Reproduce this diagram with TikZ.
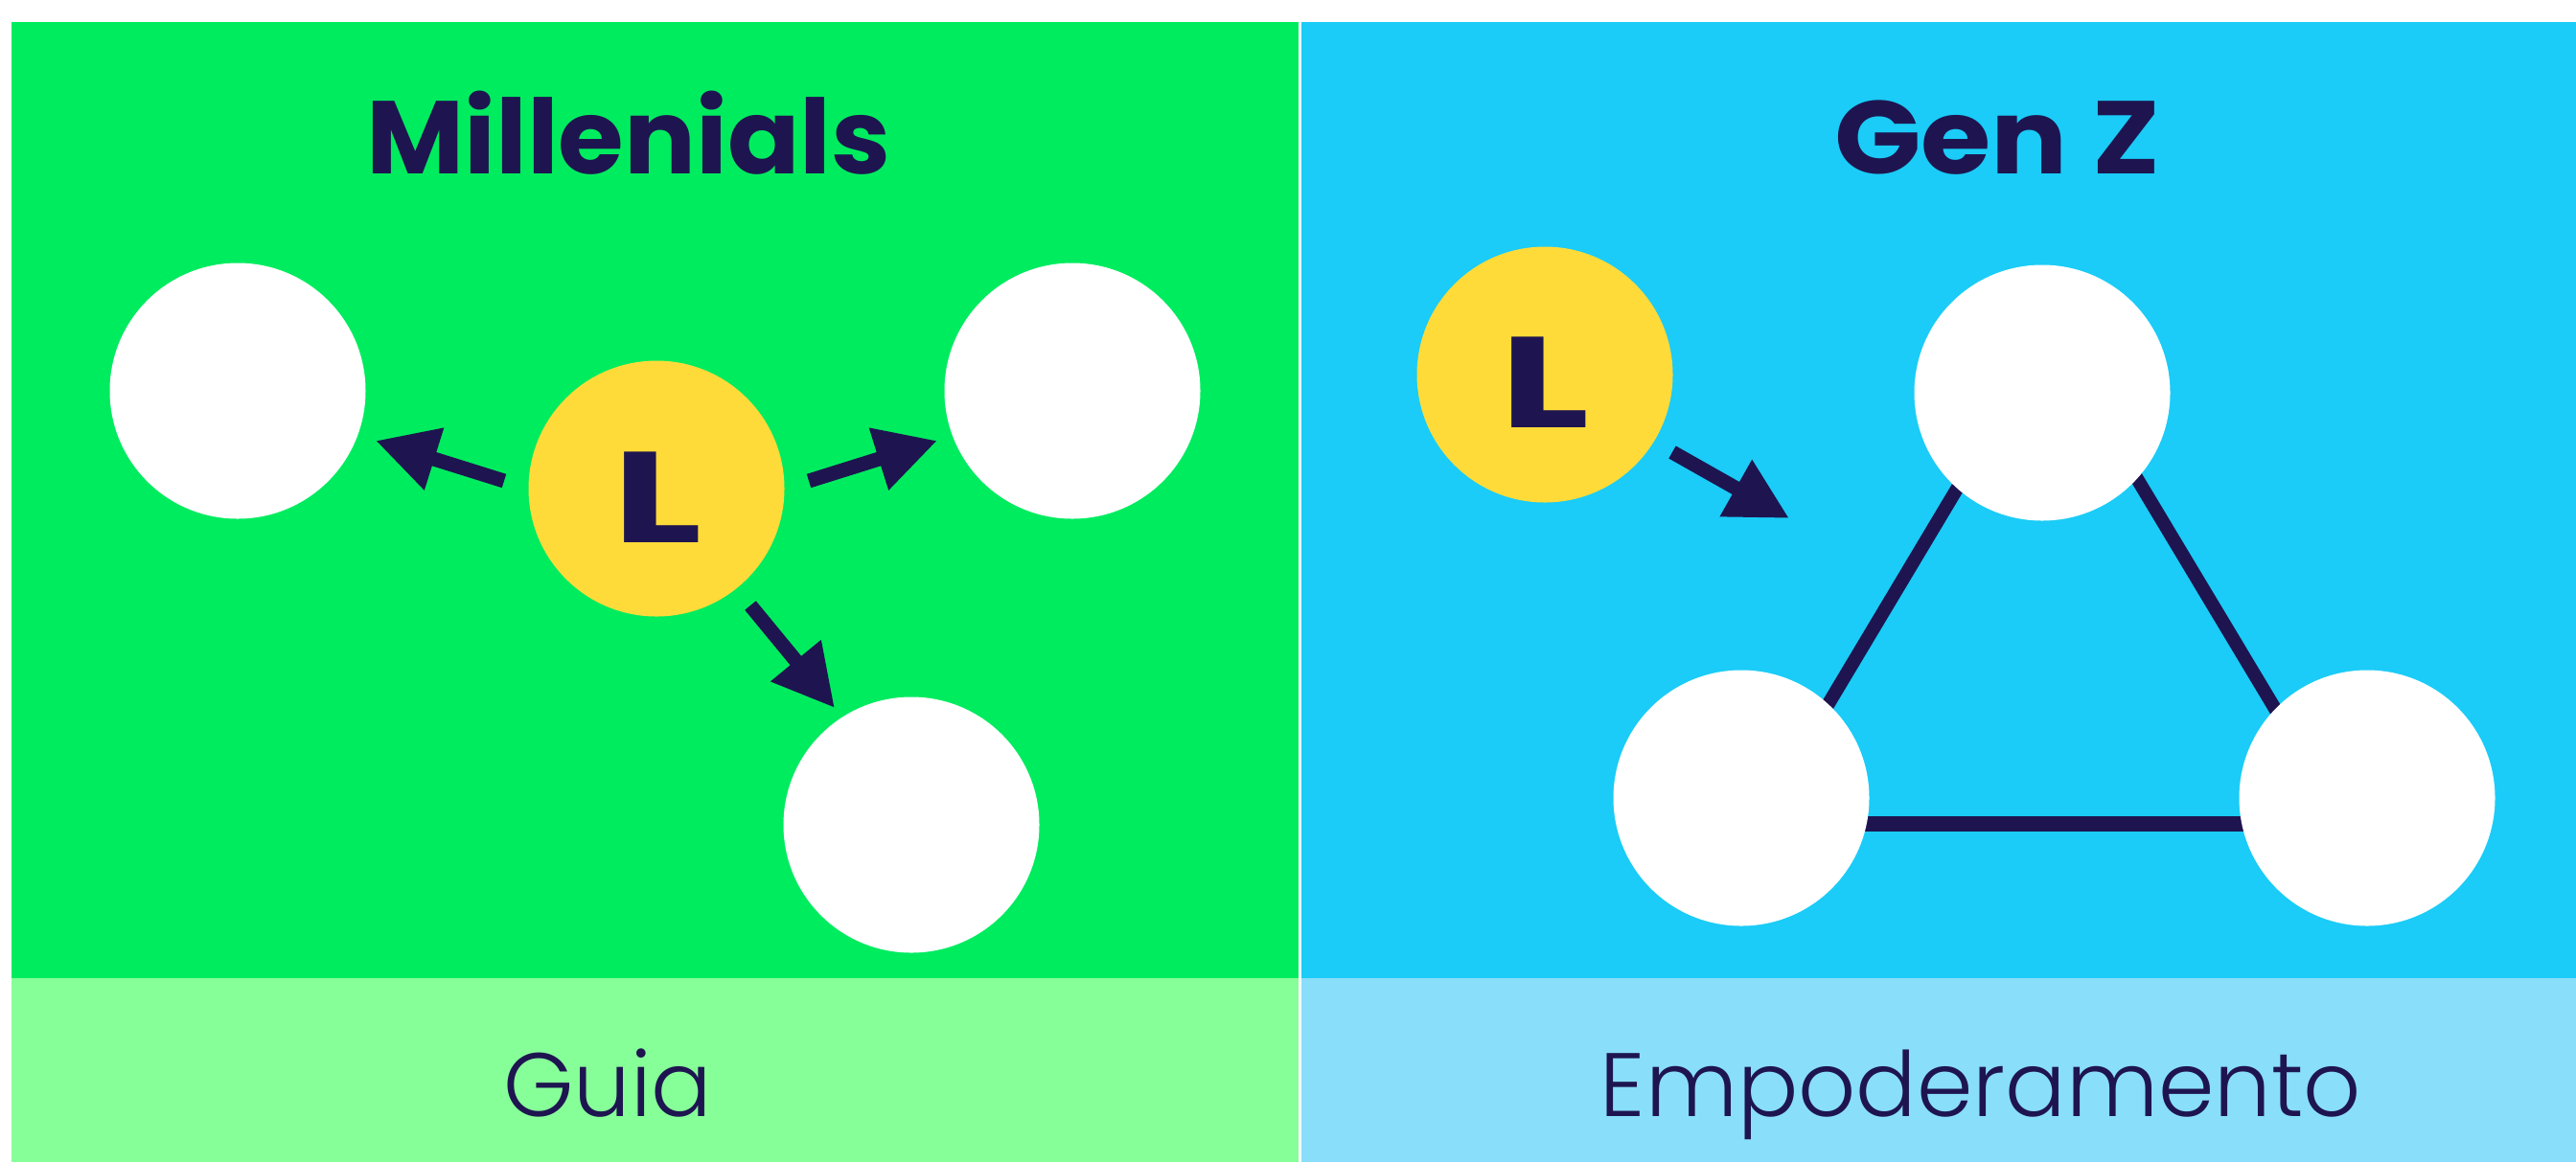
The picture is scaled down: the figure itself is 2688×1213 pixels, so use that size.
\documentclass[tikz,border=0pt]{standalone}
\usepackage{fontspec}
\setmainfont{Poppins}
\newfontfamily\lightfont{Poppins Light}
\usetikzlibrary{arrows.meta}
\definecolor{mgreen}{HTML}{00EC5F}
\definecolor{lgreen}{HTML}{87FF99}
\definecolor{mblue}{HTML}{1ACCF7}
\definecolor{lblue}{HTML}{89DEFA}
\definecolor{myellow}{HTML}{FFDB3A}
\definecolor{navy}{HTML}{1E1550}
\tikzset{
  dot/.style={circle, minimum size=66.75pt, inner sep=0pt, fill=white},
  leader/.style={dot, fill=myellow},
  arr/.style={draw=navy, line width=3.75pt, -{Triangle[length=16pt,width=16pt]}},
  link/.style={draw=navy, line width=3.5pt},
  ttl/.style={font=\bfseries\fontsize{27}{27}\selectfont, text=navy, anchor=base, inner sep=0pt, xscale=1.1},
  sub/.style={font=\lightfont\fontsize{23.5}{23.5}\selectfont, text=navy, anchor=base, inner sep=0pt},
  lett/.style={font=\bfseries\fontsize{33.7}{33.7}\selectfont, text=navy, inner sep=0pt, xscale=1.45}
}
\begin{document}
\begin{tikzpicture}[x=0.25pt,y=-0.25pt]
\useasboundingbox (0,0) rectangle (2688,1213);
\fill[white] (0,0) rectangle (2688,1213);
% panels
\fill[mgreen] (12,23) rectangle (1355,1021);
\fill[lgreen] (12,1021) rectangle (1355,1213);
\fill[mblue] (1358,23) rectangle (2688,1021);
\fill[lblue] (1358,1021) rectangle (2688,1213);
% titles
\node[ttl, xscale=0.936] (t1) at (656,181) {Millenials};
\node[ttl] (t2) at (2084,181) {Gen Z};
\node[sub] (s1) at (634,1165) {Guia};
\node[sub] (s2) at (2067,1165) {Empoderamento};
% left panel
\node[dot] (w1) at (248,408) {};
\node[dot] (w2) at (1119,408) {};
\node[dot] (w3) at (951,861) {};
\node[leader] (l1) at (685,510) {};
\node[lett] (l1t) at (686,519) {L};
\coordinate (a1s) at (526,502); \coordinate (a1e) at (392,460);
\coordinate (a2s) at (844,502); \coordinate (a2e) at (978,460);
\coordinate (a3s) at (783,632); \coordinate (a3e) at (871,739);
\draw[arr] (a1s) -- (a1e);
\draw[arr] (a2s) -- (a2e);
\draw[arr] (a3s) -- (a3e);
% right panel
\coordinate (ta) at (2139,348);
\coordinate (tb) at (1833,860);
\coordinate (tc) at (2446,860);
\draw[link] (ta) -- (tb);
\draw[link] (tc) -- (ta);
\draw[link, line width=4pt] (tb) -- (tc);
\node[dot] (g1) at (2131,410) {};
\node[dot] (g2) at (1817,833) {};
\node[dot] (g3) at (2470,833) {};
\node[leader] (l2) at (1612,391) {};
\node[lett] (l2t) at (1612,399) {L};
\coordinate (a4s) at (1745,472); \coordinate (a4e) at (1867,541);
\draw[arr] (a4s) -- (a4e);
\end{tikzpicture}
\end{document}
